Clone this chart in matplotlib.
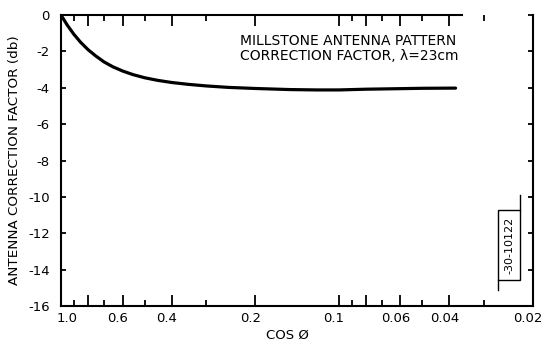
import matplotlib
matplotlib.use("Agg")
import matplotlib.pyplot as plt
import matplotlib.transforms as mtransforms
from matplotlib.ticker import FixedLocator, FixedFormatter, NullFormatter
from matplotlib.patches import Rectangle

# ---- data ----
cos_phi = [1.0, 0.95, 0.9, 0.85, 0.8, 0.75, 0.7, 0.65, 0.6, 0.55, 0.5, 0.45,
           0.4, 0.35, 0.3, 0.25, 0.2, 0.15, 0.12, 0.1, 0.08, 0.06, 0.05, 0.038]
correction_db = [0.0, -0.55, -1.05, -1.5, -1.9, -2.25, -2.58, -2.85, -3.08, -3.28,
                 -3.45, -3.59, -3.71, -3.81, -3.9, -3.98, -4.04, -4.1, -4.12,
                 -4.12, -4.08, -4.05, -4.03, -4.02]

x_major = [1.0, 0.8, 0.6, 0.4, 0.2, 0.1, 0.08, 0.06, 0.04, 0.02]
x_major_labels = ["1.0", "", "0.6", "0.4", "0.2", "0.1", "", "0.06", "0.04", "0.02"]
x_minor = [0.9, 0.7, 0.5, 0.3, 0.09, 0.07, 0.05, 0.03]
y_ticks = [0, -2, -4, -6, -8, -10, -12, -14, -16]
y_tick_labels = ["0", "-2", "-4", "-6", "-8", "-10", "-12", "-14", "-16"]

title_text = "MILLSTONE ANTENNA PATTERN\nCORRECTION FACTOR, λ=23cm"
ylabel_text = "ANTENNA CORRECTION FACTOR (db)"
xlabel_text = "COS Ø"
stamp_text = "-30-10122"

plt.rcParams['font.family'] = ['DejaVu Sans']

fig = plt.figure(figsize=(5.46, 3.42), dpi=100)
ax = fig.add_axes([61/546, 1 - 306/342, (533 - 61)/546, (306 - 15)/342])

ax.plot(cos_phi, correction_db, color='black', lw=2.3, solid_capstyle='round')

ax.set_xscale('log')
ax.set_xlim(1.0, 0.02)
ax.set_ylim(-16, 0)

ax.xaxis.set_major_locator(FixedLocator(x_major))
ax.xaxis.set_major_formatter(FixedFormatter(x_major_labels))
ax.xaxis.set_minor_locator(FixedLocator(x_minor))
ax.xaxis.set_minor_formatter(NullFormatter())
ax.yaxis.set_major_locator(FixedLocator(y_ticks))
ax.yaxis.set_major_formatter(FixedFormatter(y_tick_labels))

ax.tick_params(axis='x', which='major', direction='in', length=8, width=1.3,
               top=True, bottom=True, labelsize=9.5, pad=4)
ax.tick_params(axis='x', which='minor', direction='in', length=4.5, width=1.3,
               top=True, bottom=True)
ax.tick_params(axis='y', which='major', direction='in', length=3.5, width=1.3,
               left=True, right=True, labelsize=9.5, pad=8)

for s in ax.spines.values():
    s.set_linewidth(1.5)
ax.spines['top'].set_bounds(1.0, 0.036)

# shift x tick labels slightly, as in the hand-lettered original
for lbl in ax.get_xticklabels():
    dx = 6 if lbl.get_text() == "1.0" else -5
    lbl.set_transform(lbl.get_transform() +
                      mtransforms.ScaledTranslation(dx / 100, 0, fig.dpi_scale_trans))

ax.set_ylabel(ylabel_text, fontsize=9.7)
ax.yaxis.set_label_coords((21 - 61) / 472, 0.5)
ax.set_xlabel(xlabel_text, fontsize=9.5)
ax.xaxis.set_label_coords((287 - 61) / 472, (306 - 329) / 291)

ax.text((240 - 61) / 472, (306 - 34) / 291, title_text, transform=ax.transAxes,
        fontsize=10, ha='left', va='top', linespacing=1.1)

# stamp box
box = Rectangle((498/546, 1 - 280/342), 22/546, 70/342, transform=fig.transFigure,
                fill=False, lw=1.0, color='black')
fig.add_artist(box)
fig.add_artist(plt.Line2D([520/546, 520/546], [1 - 195/342, 1 - 210/342],
                          transform=fig.transFigure, lw=1.0, color='black'))
fig.add_artist(plt.Line2D([498/546, 498/546], [1 - 280/342, 1 - 290/342],
                          transform=fig.transFigure, lw=1.0, color='black'))
fig.text(509/546, 1 - 245/342, stamp_text, rotation=90, fontsize=8,
         ha='center', va='center')

fig.savefig("out.png", dpi=100)
